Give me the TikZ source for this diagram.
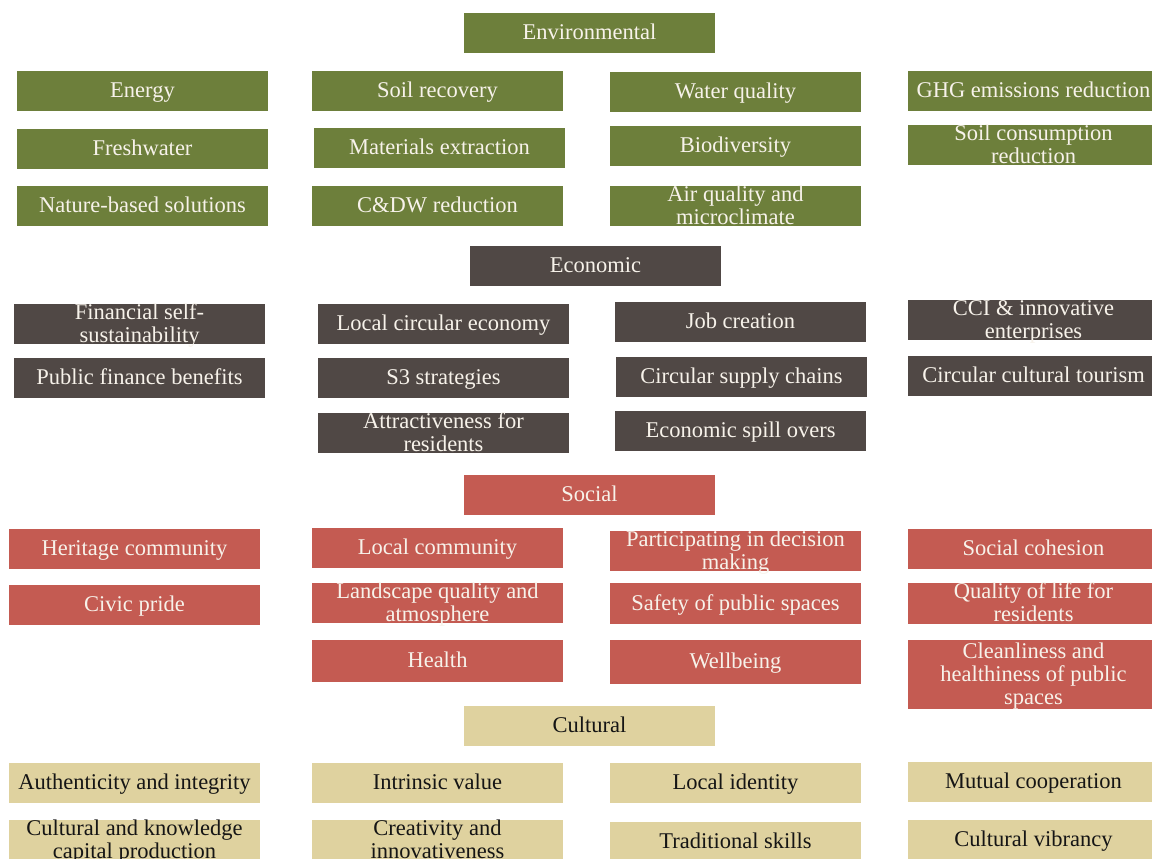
\documentclass[tikz,border=0pt]{standalone}
\usepackage{fontspec}
\setmainfont{Liberation Serif}
\definecolor{envc}{HTML}{6D7F3B}
\definecolor{ecoc}{HTML}{504845}
\definecolor{socc}{HTML}{C45B52}
\definecolor{culc}{HTML}{DFD29F}
\definecolor{lighttext}{HTML}{F7F2EA}
\definecolor{darktext}{HTML}{151515}
\tikzset{
  cell/.style={inner sep=0pt, outer sep=0pt, minimum width=251pt, anchor=north west,
    font=\fontsize{22.5}{23}\selectfont},
  envbox/.style={cell, fill=envc, text=lighttext},
  ecobox/.style={cell, fill=ecoc, text=lighttext},
  socbox/.style={cell, fill=socc, text=lighttext},
  culbox/.style={cell, fill=culc, text=darktext},
}
% fixed-height text block, centred both ways (struts keep the lines on a steady baseline)
\newcommand\cbox[2]{\parbox[c][#1pt][c]{248pt}{\vspace*{4pt}\centering\strut #2\strut}}
\begin{document}
\begin{tikzpicture}[x=1pt,y=-1pt]
\clip (0,0) rectangle (1152,859);
\fill[white] (0,0) rectangle (1152,859);

% Environmental
\node[envbox] (env) at (464,13) {\cbox{40}{Environmental}};
\node[envbox] (energy) at (17,71) {\cbox{40}{Energy}};
\node[envbox] (soilrec) at (312,71) {\cbox{40}{Soil recovery}};
\node[envbox] (water) at (610,72) {\cbox{40}{Water quality}};
\node[envbox] (ghg) at (908,71) {\cbox{40}{GHG emissions reduction}};
\node[envbox] (fresh) at (17,129) {\cbox{40}{Freshwater}};
\node[envbox] (mat) at (314,128) {\cbox{40}{Materials extraction}};
\node[envbox] (bio) at (610,126) {\cbox{40}{Biodiversity}};
\node[envbox] (soilcons) at (908,125) {\cbox{40}{Soil consumption\\reduction}};
\node[envbox] (nbs) at (17,186) {\cbox{40}{Nature-based solutions}};
\node[envbox] (cdw) at (312,186) {\cbox{40}{C\&DW reduction}};
\node[envbox] (air) at (610,186) {\cbox{40}{Air quality and\\microclimate}};

% Economic
\node[ecobox] (eco) at (470,246) {\cbox{40}{Economic}};
\node[ecobox] (fin) at (14,304) {\cbox{40}{Financial self-\\sustainability}};
\node[ecobox] (lce) at (318,304) {\cbox{40}{Local circular economy}};
\node[ecobox] (job) at (615,302) {\cbox{40}{Job creation}};
\node[ecobox] (cci) at (908,300) {\cbox{40}{CCI \& innovative\\enterprises}};
\node[ecobox] (pfb) at (14,358) {\cbox{40}{Public finance benefits}};
\node[ecobox] (s3) at (318,358) {\cbox{40}{S3 strategies}};
\node[ecobox] (csc) at (616,357) {\cbox{40}{Circular supply chains}};
\node[ecobox] (cct) at (908,356) {\cbox{40}{Circular cultural tourism}};
\node[ecobox] (attr) at (318,413) {\cbox{40}{Attractiveness for\\residents}};
\node[ecobox] (spill) at (615,411) {\cbox{40}{Economic spill overs}};

% Social
\node[socbox] (soc) at (464,475) {\cbox{40}{Social}};
\node[socbox] (herit) at (9,529) {\cbox{40}{Heritage community}};
\node[socbox] (lcom) at (312,528) {\cbox{40}{Local community}};
\node[socbox] (part) at (610,531) {\cbox{40}{Participating in decision\\making}};
\node[socbox] (cohes) at (908,529) {\cbox{40}{Social cohesion}};
\node[socbox] (civic) at (9,585) {\cbox{40}{Civic pride}};
\node[socbox] (land) at (312,583) {\cbox{40}{Landscape quality and\\atmosphere}};
\node[socbox] (safe) at (610,583) {\cbox{41}{Safety of public spaces}};
\node[socbox] (qol) at (908,583) {\cbox{41}{Quality of life for\\residents}};
\node[socbox] (health) at (312,640) {\cbox{42}{Health}};
\node[socbox] (well) at (610,640) {\cbox{44}{Wellbeing}};
\node[socbox] (clean) at (908,640) {\cbox{69}{Cleanliness and\\healthiness of public\\spaces}};

% Cultural
\node[culbox] (cul) at (464,706) {\cbox{40}{Cultural}};
\node[culbox] (auth) at (9,763) {\cbox{40}{Authenticity and integrity}};
\node[culbox] (intr) at (312,763) {\cbox{40}{Intrinsic value}};
\node[culbox] (lid) at (610,763) {\cbox{40}{Local identity}};
\node[culbox] (mutual) at (908,762) {\cbox{40}{Mutual cooperation}};
\node[culbox] (ckc) at (9,820) {\cbox{40}{Cultural and knowledge\\capital production}};
\node[culbox] (creat) at (312,820) {\cbox{40}{Creativity and\\innovativeness}};
\node[culbox] (trad) at (610,822) {\cbox{40}{Traditional skills}};
\node[culbox] (vibr) at (908,820) {\cbox{40}{Cultural vibrancy}};
\end{tikzpicture}
\end{document}
